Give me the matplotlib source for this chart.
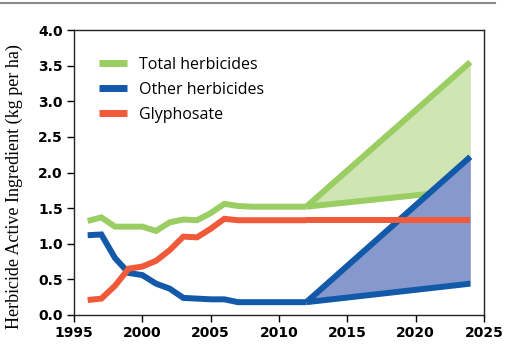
import matplotlib
matplotlib.use("Agg")
import matplotlib.pyplot as plt
from matplotlib.lines import Line2D

years = [1996, 1997, 1998, 1999, 2000, 2001, 2002, 2003, 2004, 2005, 2006, 2007, 2008, 2009, 2010, 2011, 2012]
total = [1.32, 1.37, 1.24, 1.24, 1.24, 1.18, 1.30, 1.34, 1.33, 1.43, 1.56, 1.53, 1.52, 1.52, 1.52, 1.52, 1.52]
other = [1.12, 1.13, 0.80, 0.59, 0.56, 0.44, 0.37, 0.24, 0.23, 0.22, 0.22, 0.18, 0.18, 0.18, 0.18, 0.18, 0.18]
glyph = [0.21, 0.23, 0.41, 0.65, 0.68, 0.76, 0.91, 1.10, 1.09, 1.21, 1.35, 1.33, 1.33, 1.33, 1.33, 1.33, 1.33]

proj_years = [2012, 2024]
total_high = [1.52, 3.55]
total_low = [1.52, 1.76]
other_high = [0.18, 2.22]
other_low = [0.18, 0.44]
glyph_proj = [1.33, 1.33]

green = "#9acd62"
green_fill = "#cfe5b4"
blue = "#1259aa"
blue_fill = "#8798cc"
orange = "#f05a38"

fig = plt.figure(figsize=(5.16, 3.59), dpi=100)
ax = fig.add_axes([74/516, 1-315/359, (484-74)/516, (315-30)/359])

lw = 4.3
kw = dict(lw=lw, solid_capstyle="butt", solid_joinstyle="miter")
ax.fill_between(proj_years, total_low, total_high, color=green_fill, lw=0, zorder=1)
ax.plot(years, total, color=green, zorder=2, **kw)
ax.plot(proj_years, total_high, color=green, zorder=2, **kw)
ax.plot(proj_years, total_low, color=green, zorder=2, **kw)
ax.fill_between(proj_years, other_low, other_high, color=blue_fill, lw=0, zorder=3)
ax.plot(years, other, color=blue, zorder=4, **kw)
ax.plot(proj_years, other_high, color=blue, zorder=4, **kw)
ax.plot(proj_years, other_low, color=blue, zorder=4, **kw)
ax.plot(years, glyph, color=orange, zorder=5, **kw)
ax.plot(proj_years, glyph_proj, color=orange, zorder=5, **kw)

ax.set_xlim(1995, 2025)
ax.set_ylim(0, 4.0)
ax.set_xticks(range(1995, 2026, 5))
ax.set_yticks([0, 0.5, 1.0, 1.5, 2.0, 2.5, 3.0, 3.5, 4.0])
ax.set_yticklabels([f"{v:.1f}" for v in [0, 0.5, 1.0, 1.5, 2.0, 2.5, 3.0, 3.5, 4.0]])
ax.tick_params(direction="out", length=5, width=1, labelsize=10, pad=3)
for lab in ax.get_xticklabels() + ax.get_yticklabels():
    lab.set_fontweight("bold")
    lab.set_family("DejaVu Sans")
for s in ax.spines.values():
    s.set_linewidth(1.0)
    s.set_color("#222222")

fig.text(14/516, 1-187/359, "Herbicide Active Ingredient (kg per ha)", rotation=90,
         ha="center", va="center", family="Liberation Serif", fontsize=13)

handles = [Line2D([], [], color=green, lw=5, solid_capstyle="butt"),
           Line2D([], [], color=blue, lw=5, solid_capstyle="butt"),
           Line2D([], [], color=orange, lw=5, solid_capstyle="butt")]
ax.legend(handles, ["Total herbicides", "Other herbicides", "Glyphosate"],
          loc="upper left", bbox_to_anchor=(0.062, 0.905), frameon=False,
          handlelength=1.75, handletextpad=0.7, labelspacing=0.55,
          borderaxespad=0, borderpad=0,
          prop={"family": "Open Sans", "size": 11.5})

fig.add_artist(Line2D([0, 495/516], [1-2.5/359, 1-2.5/359], color="#8a8a8a", lw=1.5))

fig.savefig("out.png", dpi=100)
